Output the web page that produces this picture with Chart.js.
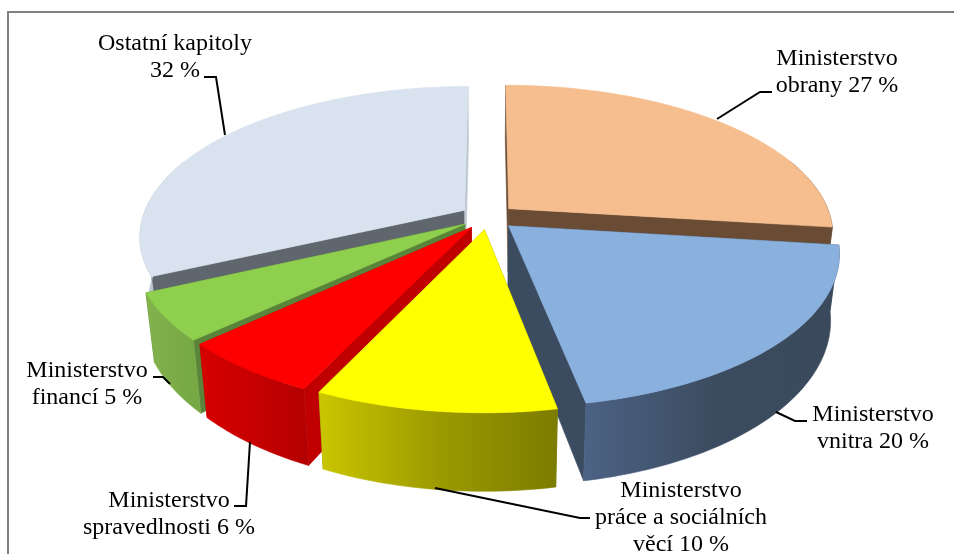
<!DOCTYPE html>
<html><head><meta charset="utf-8">
<style>html,body{margin:0;padding:0;background:#fff}canvas{display:block}</style>
<script src="https://cdn.jsdelivr.net/npm/chart.js@4"></script>
</head><body><canvas id="c" width="954" height="554"></canvas>
<script>
const categories = ["Ministerstvo obrany","Ministerstvo vnitra","Ministerstvo práce a sociálních věcí","Ministerstvo spravedlnosti","Ministerstvo financí","Ostatní kapitoly"];
const shares = [27,20,10,6,5,32];
const topColors = ["#F6BE8E","#8AB0DE","#FFFF00","#FF0000","#8ECF4D","#D8E3EF"];
const cutColors = ["#6A4C35","#3B4C60","#7F7F00","#C00000","#5A843A","#5F666E"];
const endCutColors = ["#6A4C35","#3B4C60","#7F7F00","#C00000","#5A843A","#BCC6D0"];
const wallStops = [["#6A4C35","#6A4C35"],["#4C6284","#3C4C60","#3A4A5C"],["#CAC600","#9C9A00","#7C7C00"],["#D60000","#C80000","#B40000"],["#82B24C","#76A844"],["#BCC6D0","#BCC6D0"]];
const labelLines = [["Ministerstvo","obrany 27 %"],["Ministerstvo","vnitra 20 %"],["Ministerstvo","práce a sociálních","věcí 10 %"],["Ministerstvo","spravedlnosti 6 %"],["Ministerstvo","financí 5 %"],["Ostatní kapitoly","32 %"]];
// layout only
const labelPos = [[837,65],[873,421],[681,497],[169,507],[87,377],[175,50]];
const leaders = [[[772,92],[760,92],[717,119]],[[807,421],[795,421],[776,412]],[[590,518],[580,518],[435,488]],[[234,506],[246,506],[250,442]],[[153,377],[163,377],[170,384]],[[204,77],[216,77],[225,135]]];
const view = {cx:488,cy:217,W:322,q:147,k:0.17,h:64,conv:0.025};

function project(u,v,z){
  const s = 1/(1-view.k*v);
  return [view.cx+u*view.W*s*(1-view.conv*z), view.cy+(v*view.q+z*view.h)*s];
}
const pie3d = {
  id:'pie3d',
  beforeDatasetsDraw(chart){
    const ctx = chart.ctx, arcs = chart.getDatasetMeta(0).data;
    ctx.save();
    ctx.strokeStyle='#808080';ctx.lineWidth=2;ctx.strokeRect(8,12,960,560);
    const order = arcs.map((a,i)=>i).sort((a,b)=>{
      const m=e=>Math.sin((arcs[e].startAngle+arcs[e].endAngle)/2);
      return m(a)-m(b);
    });
    const poly=(pts,fill,edge)=>{ctx.beginPath();pts.forEach((p,i)=>i?ctx.lineTo(p[0],p[1]):ctx.moveTo(p[0],p[1]));ctx.closePath();ctx.fillStyle=fill;ctx.fill();ctx.strokeStyle=edge||fill;ctx.lineWidth=0.6;ctx.stroke();};
    for(const i of order){
      const a=arcs[i], s=a.startAngle, e=a.endAngle, mid=(s+e)/2;
      const d=a.options.offset/a.outerRadius;
      const ox=d*Math.cos(mid), oy=d*Math.sin(mid);
      const rim=[], wall=[];const n=Math.max(8,Math.ceil((e-s)/0.02));
      for(let j=0;j<=n;j++){
        const t=s+(e-s)*j/n, p=[ox+Math.cos(t),oy+Math.sin(t)];
        rim.push(p);
        if(Math.sin(t)>-0.35) wall.push(p);
      }
      const apex=[ox,oy];
      const at=(p,z)=>project(p[0],p[1],z);
      // cut faces
      poly([at(apex,0),at(rim[0],0),at(rim[0],1),at(apex,1)],cutColors[i]);
      poly([at(apex,0),at(rim[n],0),at(rim[n],1),at(apex,1)],endCutColors[i]);
      // outer wall (front-facing part only)
      const xs=wall.map(p=>at(p,0)[0]);
      const g=ctx.createLinearGradient(Math.min(...xs),0,Math.max(...xs),0);
      const st=wallStops[i];st.forEach((c,k)=>g.addColorStop(k/(st.length-1),c));
      poly(wall.map(p=>at(p,0)).concat(wall.slice().reverse().map(p=>at(p,1))),g);
      // top
      poly([at(apex,0)].concat(rim.map(p=>at(p,0))),a.options.backgroundColor);
    }
    // leaders
    ctx.strokeStyle='#000';ctx.lineWidth=2;ctx.lineJoin='miter';
    leaders.forEach(l=>{ctx.beginPath();l.forEach((p,i)=>i?ctx.lineTo(p[0],p[1]):ctx.moveTo(p[0],p[1]));ctx.stroke();});
    // labels
    ctx.fillStyle='#000';ctx.font='24px "Liberation Serif"';ctx.textAlign='center';ctx.textBaseline='alphabetic';
    labelLines.forEach((ls,i)=>ls.forEach((t,j)=>ctx.fillText(t,labelPos[i][0],labelPos[i][1]+j*27)));
    ctx.restore();
    return false;
  }
};
new Chart(document.getElementById('c'),{
  type:'pie',
  data:{labels:categories,datasets:[{data:shares,backgroundColor:topColors,borderWidth:0,offset:23}]},
  options:{responsive:false,animation:false,layout:{padding:0},plugins:{legend:{display:false},tooltip:{enabled:false}}},
  plugins:[pie3d]
});
</script></body></html>
